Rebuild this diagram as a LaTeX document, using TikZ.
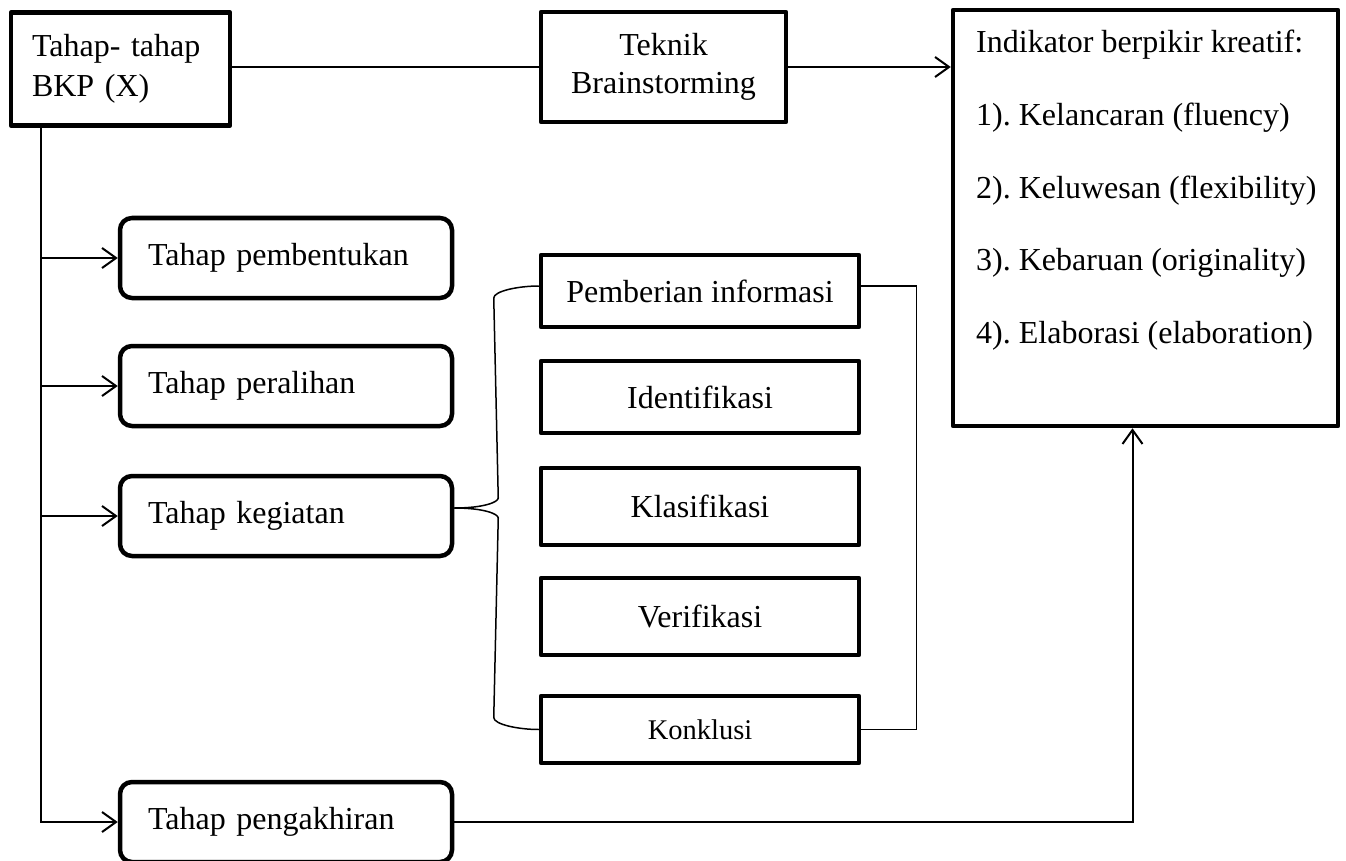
\documentclass[tikz,border=0pt]{standalone}
\usepackage{fontspec}
\setmainfont{Liberation Serif}
\usetikzlibrary{arrows.meta}
\frenchspacing
\begin{document}
\begin{tikzpicture}[x=1pt,y=-1pt,
  every node/.style={font=\fontsize{32}{40}\selectfont},
  sqbox/.style={draw, line width=4.5pt, line join=round, inner sep=0pt},
  rbox/.style={draw, line width=4.5pt, rounded corners=12pt, minimum width=332pt, minimum height=80pt, text width=276pt, align=left, inner xsep=28pt, inner ysep=0pt},
  mbox/.style={draw, line width=4.5pt, line join=round, minimum width=318pt, inner sep=0pt, align=center},
  conn/.style={line width=2pt},
  thinln/.style={line width=1.5pt},
  arr/.style={conn, -{Straight Barb[length=14pt,width=20pt]}}
]
\useasboundingbox (0,0) rectangle (1346,861);

% top row
\node[sqbox, minimum width=219pt, minimum height=113pt, text width=177pt, inner xsep=21pt, align=left] (A) at (120.5,69) {Tahap- tahap\\BKP (X)};
\node[sqbox, minimum width=245pt, minimum height=110pt, align=center, font=\fontsize{32}{38}\selectfont] (tb) at (663.5,67) {Teknik\\Brainstorming};
\node[sqbox, minimum width=385pt, minimum height=416pt] (ind) at (1145.5,218) {};
\node[anchor=north west, inner sep=0pt, align=left, font=\fontsize{32}{72.7}\selectfont] (indt) at (976,30)
  {Indikator berpikir kreatif:\\1). Kelancaran (fluency)\\2). Keluwesan (flexibility)\\3). Kebaruan (originality)\\4). Elaborasi (elaboration)};

% stages
\node[rbox] (b1) at (286,258) {Tahap pembentukan};
\node[rbox] (b2) at (286,386) {Tahap peralihan};
\node[rbox] (b3) at (286,516) {Tahap kegiatan};
\node[rbox] (pg) at (286,822) {Tahap pengakhiran};

% activity boxes
\node[mbox, minimum height=72pt] (pi) at (700,291) {Pemberian informasi};
\node[mbox, minimum height=72pt] (id) at (700,397) {Identifikasi};
\node[mbox, minimum height=77pt] (kl) at (700,506.5) {Klasifikasi};
\node[mbox, minimum height=77pt] (vf) at (700,616.5) {Verifikasi};
\node[mbox, minimum height=67pt, font=\fontsize{28.5}{34}\selectfont] (kk) at (700,729.5) {Konklusi};

% connectors top
\draw[conn] (A.east |- tb.west) -- (tb.west);
\draw[arr] (tb.east) -- (tb.east -| ind.west);

% vertical spine
\coordinate (vtop) at ([xshift=32pt]A.south west);
\draw[arr] (vtop) |- (pg.west);
\foreach \b in {b1,b2,b3} \draw[arr] (vtop |- \b.west) -- (\b.west);

% pengakhiran to indikator
\draw[arr] (pg.east) -| ([xshift=-13pt]ind.south);

% brace
\coordinate (bm) at ([yshift=8pt]b3.east);
\coordinate (pt) at ([yshift=5pt]pi.west);
\coordinate (kt) at (kk.west);
\draw[thinln] (bm) -- (b3.east |- bm);
\draw[thinln] (bm) .. controls +(30,0) and +(0,4) .. ([xshift=44pt,yshift=10pt]bm)
  -- ([xshift=-45pt,yshift=-12pt]pt) .. controls +(0,-7) and +(-20,0) .. (pt);
\draw[thinln] (bm) .. controls +(30,0) and +(0,-4) .. ([xshift=44pt,yshift=-10pt]bm)
  -- ([xshift=-45pt,yshift=12pt]kt) .. controls +(0,7) and +(-20,0) .. (kt);

% right bracket
\draw[thinln] (pt -| pi.east) -- ++(55,0) |- (kk.east);
\end{tikzpicture}
\end{document}
